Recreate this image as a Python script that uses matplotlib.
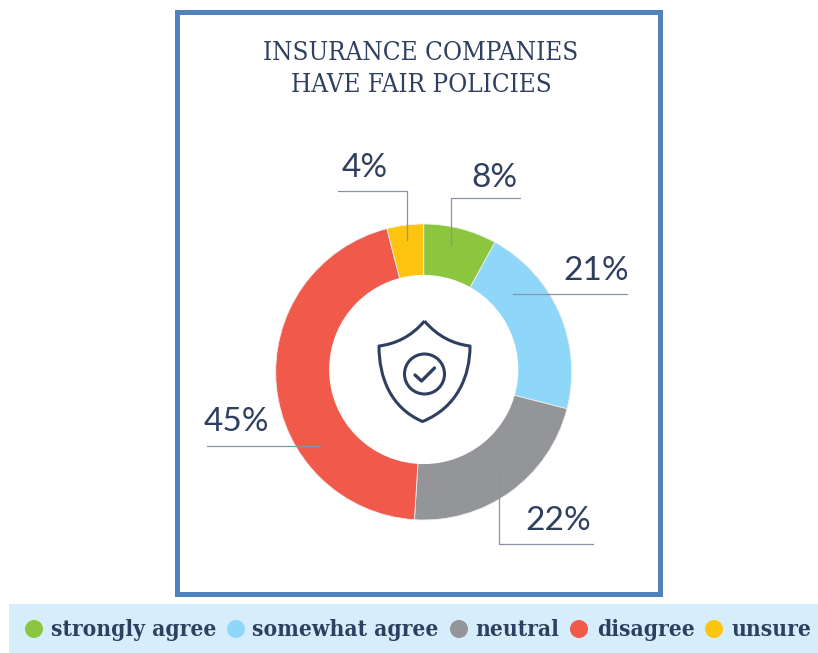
import matplotlib
matplotlib.use('Agg')
import matplotlib.pyplot as plt
from matplotlib.patches import Rectangle, Circle, PathPatch
from matplotlib.path import Path

W, H = 818, 653

categories = ['strongly agree', 'somewhat agree', 'neutral', 'disagree', 'unsure']
values = [8, 21, 22, 45, 4]
colors = ['#8cc63f', '#8fd7f9', '#939598', '#f15a4a', '#fdc50f']
pct_labels = ['8%', '21%', '22%', '45%', '4%']

navy = '#2f3f5f'
line_col = '#8a93a3'


# picture y runs downwards, the axes upwards
def Y(y):
    return H - y


fig = plt.figure(figsize=(W / 100, H / 100), dpi=100)
ax = fig.add_axes([0, 0, 1, 1])

# donut, the hole sits a little above the centre of the ring
ax.pie(values, colors=colors, startangle=90, counterclock=False,
       center=(423.7, Y(372)), radius=148,
       wedgeprops={'width': 60, 'edgecolor': '#efefef', 'linewidth': 0.6})
ax.set_xlim(0, W)
ax.set_ylim(0, H)
ax.set_aspect('equal')
ax.axis('off')
ax.add_patch(Circle((423.7, Y(369.5)), 94.6, fc='white', ec='none', zorder=3))

# frame and legend band
ax.add_patch(Rectangle((177, Y(593.5)), 482.5, 582, fill=False, ec='#4f81bd', lw=3.6, zorder=5))
ax.add_patch(Rectangle((9, 0), W - 9, H - 604, fc='#d6eefb', ec='none', zorder=1))

# title
ax.text(421, Y(52), 'INSURANCE COMPANIES', ha='center', va='center', color=navy,
        fontsize=18.6, family='DejaVu Serif', stretch='condensed')
ax.text(421, Y(84), 'HAVE FAIR POLICIES', ha='center', va='center', color=navy,
        fontsize=18.6, family='DejaVu Serif', stretch='condensed')

# percentages
label_pos = [(494, 178), (596, 271), (558, 521), (236, 422), (365, 168)]
for lab, (x, y) in zip(pct_labels, label_pos):
    ax.text(x, Y(y), lab, ha='center', va='center', color=navy, fontsize=24, family='Lato')

# leader lines
leaders = [
    [(520, 198), (451, 198), (451, 245)],
    [(513, 294), (627, 294)],
    [(499, 474), (499, 544), (593, 544)],
    [(207, 446), (320, 446)],
    [(338, 191), (407, 191), (407, 240)],
]
for pts in leaders:
    ax.plot([p[0] for p in pts], [Y(p[1]) for p in pts], color=line_col, lw=0.9, zorder=4)

# shield icon
verts = [(424.5, 321), (438, 337), (454, 344), (470, 346),
         (470, 375), (458, 407), (422.5, 421.5),
         (391, 408), (379, 378), (379, 346),
         (395, 344), (411, 337), (424.5, 321)]
codes = [Path.MOVETO] + [Path.CURVE4] * 12
ax.add_patch(PathPatch(Path([(x, Y(y)) for x, y in verts], codes), fill=False,
                       ec=navy, lw=2.2, joinstyle='round', zorder=4))
ax.add_patch(Circle((424.5, Y(374)), 20, fill=False, ec=navy, lw=2.2, zorder=4))
ax.plot([415, 421.5, 434.5], [Y(375), Y(381), Y(368)], color=navy, lw=2.4,
        solid_capstyle='round', solid_joinstyle='round', zorder=4)

# legend
dot_x = [34, 236, 459, 579, 714]
text_x = [51, 252, 475, 597, 732]
for cat, col, dx, tx in zip(categories, colors, dot_x, text_x):
    ax.add_patch(Circle((dx, Y(629)), 9, fc=col, ec='none', zorder=3))
    ax.text(tx, Y(630), cat, ha='left', va='center', color=navy, fontsize=16.3,
            family='DejaVu Serif', stretch='condensed', weight='bold', zorder=3)

fig.savefig('out.png', dpi=100)
